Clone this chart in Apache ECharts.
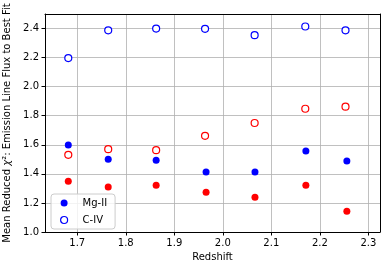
<!DOCTYPE html>
<html>
<head>
<meta charset="utf-8">
<script src="https://cdn.jsdelivr.net/npm/echarts@6/dist/echarts.min.js"></script>
<style>
html,body{margin:0;padding:0;background:#fff;}
#chart{width:381px;height:265px;}
</style>
</head>
<body>
<div id="chart"></div>
<script>
// Redshift positions
const redshiftOpen = [1.6815, 1.7638, 1.8626, 1.9634, 2.0656, 2.170, 2.2529];
const redshiftFilled = [1.6815, 1.7638, 1.8626, 1.9655, 2.0663, 2.1712, 2.2557];
// Blue filled: Mg-II
const mg2Blue = [1.598, 1.501, 1.494, 1.412, 1.412, 1.557, 1.488];
// Blue open: C-IV
const c4Blue = [2.197, 2.388, 2.400, 2.398, 2.354, 2.414, 2.388];
// Red filled
const mg2Red = [1.350, 1.309, 1.322, 1.274, 1.239, 1.322, 1.143];
// Red open
const c4Red = [1.531, 1.570, 1.563, 1.662, 1.750, 1.848, 1.862];

function pairs(xs, ys){ return xs.map((x,i)=>[x, ys[i]]); }

const font = 'DejaVu Sans';
const xMin = 1.6335, xMax = 2.324, yMin = 1.0, yMax = 2.5;
const chart = echarts.init(document.getElementById('chart'), null, {renderer:'canvas'});
const frameAxis = {
  type: 'value', axisLine: {show: true, onZero: false, lineStyle: {color: '#000', width: 1}},
  axisTick: {show: false}, axisLabel: {show: false}, splitLine: {show: false}
};
chart.setOption({
  animation: false,
  backgroundColor: '#fff',
  textStyle: {fontFamily: font},
  grid: {left: 45, right: 1, top: 14, bottom: 33, show: false, containLabel: false, outerBoundsMode: 'none'},
  legend: {
    data: [{name:'Mg-II'}, {name:'C-IV', itemStyle: {color: '#ffffff', borderColor: '#0000ff', borderWidth: 1.2}}],
    orient: 'vertical',
    left: 51, top: 194,
    itemWidth: 7, itemHeight: 7, itemGap: 7,
    padding: [4, 8, 4, 9],
    backgroundColor: 'rgba(255,255,255,0.8)',
    borderColor: '#cccccc', borderWidth: 1, borderRadius: 3,
    textStyle: {fontFamily: font, fontSize: 10, color: '#000', padding:[0,0,0,10]}
  },
  xAxis: [{
    type: 'value',
    min: xMin, max: xMax,
    splitNumber: 7,
    name: 'Redshift', nameLocation: 'middle', nameGap: 19,
    nameTextStyle: {fontFamily: font, fontSize: 10, color: '#000'},
    axisLine: {show: true, onZero: false, lineStyle: {color: '#000', width: 1}},
    axisTick: {show: true, length: 3.5, lineStyle: {color: '#000'}},
    axisLabel: {fontFamily: font, fontSize: 10, color: '#000', margin: 6, showMinLabel: false, showMaxLabel: false,
      formatter: v => v.toFixed(1)},
    splitLine: {show: true, lineStyle: {color: '#b0b0b0', width: 0.8}}
  }, Object.assign({position: 'top', min: xMin, max: xMax}, frameAxis)],
  yAxis: [{
    type: 'value',
    min: yMin, max: yMax, interval: 0.2,
    name: 'Mean Reduced {i|χ}²: Emission Line Flux to Best Fit',
    nameLocation: 'middle', nameGap: 31, nameRotate: 90,
    nameTextStyle: {fontFamily: font, fontSize: 10, color: '#000',
      rich: {i: {fontFamily: font, fontSize: 10, fontStyle: 'italic', color: '#000'}}},
    axisLine: {show: true, onZero: false, lineStyle: {color: '#000', width: 1}},
    axisTick: {show: true, length: 3.5, lineStyle: {color: '#000'}},
    axisLabel: {fontFamily: font, fontSize: 10, color: '#000', margin: 6, showMaxLabel: false,
      formatter: v => v.toFixed(1)},
    splitLine: {show: true, lineStyle: {color: '#b0b0b0', width: 0.8}}
  }, Object.assign({position: 'right', min: yMin, max: yMax}, frameAxis)],
  series: [
    {name: 'Mg-II', type: 'scatter', symbol: 'circle', symbolSize: 7,
     itemStyle: {color: '#0000ff', opacity: 1}, data: pairs(redshiftFilled, mg2Blue), z: 3},
    {name: 'C-IV', type: 'scatter', symbol: 'circle', symbolSize: 7,
     itemStyle: {color: '#ffffff', borderColor: '#0000ff', borderWidth: 1.2, opacity: 1}, data: pairs(redshiftOpen, c4Blue), z: 3},
    {name: 'Mg-II red', type: 'scatter', symbol: 'circle', symbolSize: 7,
     itemStyle: {color: '#ff0000', opacity: 1}, data: pairs(redshiftFilled, mg2Red), z: 3},
    {name: 'C-IV red', type: 'scatter', symbol: 'circle', symbolSize: 7,
     itemStyle: {color: '#ffffff', borderColor: '#ff0000', borderWidth: 1.2, opacity: 1}, data: pairs(redshiftOpen, c4Red), z: 3}
  ]
});
</script>
</body>
</html>
